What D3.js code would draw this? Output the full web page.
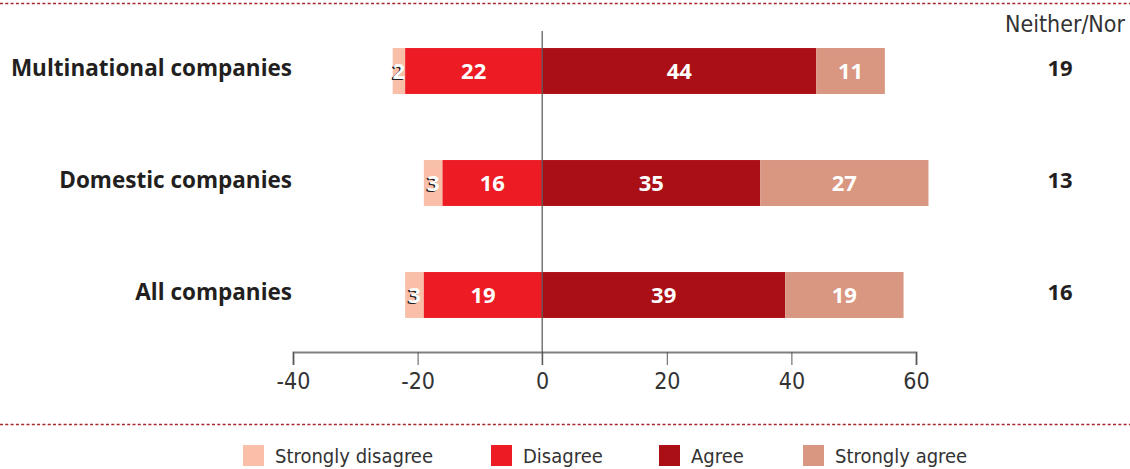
<!DOCTYPE html>
<html>
<head>
<meta charset="utf-8">
<script src="https://cdn.jsdelivr.net/npm/d3@7"></script>
<style>
  body { margin: 0; background: #fff; }
  .light { font-family: "DejaVu Sans Condensed", "Open Sans", sans-serif; fill: #333; }
  .bold { font-family: "Open Sans", sans-serif; font-weight: bold; }
</style>
</head>
<body>
<script>
"use strict";

// categories top to bottom
let categories = ["Multinational companies", "Domestic companies", "All companies"];
// shares in percent
let stronglyDisagree = [2, 3, 3];
let disagree = [22, 16, 19];
let agree = [44, 35, 39];
let stronglyAgree = [11, 27, 19];
let neitherNor = [19, 13, 16];
let xTicks = [-40, -20, 0, 20, 40, 60];
let legendNames = ["Strongly disagree", "Disagree", "Agree", "Strongly agree"];
let legendColors = ["#f9bfa8", "#ed1c24", "#ab0f16", "#d99680"];

let width = 1130, height = 469;

let svg = d3.select("body").append("svg")
    .attr("width", width)
    .attr("height", height);

let x = d3.scaleLinear().domain([-40, 60]).range([293, 916]);
let y = d3.scaleBand().domain(categories).range([15, 351])
    .paddingInner(0.59).paddingOuter(0.295);

// dotted rules top and bottom
[3.5, 424.5].forEach(function(yy) {
  svg.append("line")
     .attr("x1", 0).attr("x2", width)
     .attr("y1", yy).attr("y2", yy)
     .style("stroke", "#a8272d")
     .style("stroke-width", 1.5)
     .style("stroke-dasharray", "3,2.3");
});

// build the stacked segments: [start, end, value, colorIndex]
let segs = [];
categories.forEach(function(c, i) {
  segs.push({cat: c, x0: -disagree[i] - stronglyDisagree[i], x1: -disagree[i], v: stronglyDisagree[i], k: 0});
  segs.push({cat: c, x0: -disagree[i], x1: 0, v: disagree[i], k: 1});
  segs.push({cat: c, x0: 0, x1: agree[i], v: agree[i], k: 2});
  segs.push({cat: c, x0: agree[i], x1: agree[i] + stronglyAgree[i], v: stronglyAgree[i], k: 3});
});

svg.append("g").selectAll("rect")
   .data(segs)
   .enter()
   .append("rect")
   .attr("x", d => x(d.x0))
   .attr("y", d => y(d.cat))
   .attr("width", d => x(d.x1) - x(d.x0))
   .attr("height", y.bandwidth())
   .style("fill", d => legendColors[d.k]);

// labels in segments; small ones get a dark shadow
let labels = svg.append("g");
labels.selectAll("text.shadow")
   .data(segs.filter(d => d.k == 0))
   .enter()
   .append("text")
   .attr("class", "bold shadow")
   .attr("x", d => (x(d.x0) + x(d.x1)) / 2 - 1.5)
   .attr("y", d => y(d.cat) + y.bandwidth() / 2 + 1.5)
   .attr("dy", "0.36em")
   .attr("text-anchor", "middle")
   .style("font-size", "22px")
   .style("fill", "#231f20")
   .text(d => d.v);
labels.selectAll("text.val")
   .data(segs)
   .enter()
   .append("text")
   .attr("class", "bold val")
   .attr("x", d => (x(d.x0) + x(d.x1)) / 2)
   .attr("y", d => y(d.cat) + y.bandwidth() / 2)
   .attr("dy", "0.36em")
   .attr("text-anchor", "middle")
   .style("font-size", "22px")
   .style("fill", "#fff")
   .text(d => d.v);

// category names
svg.append("g").selectAll("text")
   .data(categories)
   .enter()
   .append("text")
   .attr("class", "bold")
   .attr("x", 292)
   .attr("y", d => y(d) + y.bandwidth() / 2 - 3)
   .attr("dy", "0.36em")
   .attr("text-anchor", "end")
   .style("font-size", "22.5px")
   .style("fill", "#231f20")
   .text(d => d);

// neither/nor column
svg.append("text")
   .attr("class", "light")
   .attr("x", 1125).attr("y", 32)
   .attr("text-anchor", "end")
   .style("font-size", "23px")
   .text("Neither/Nor");
svg.append("g").selectAll("text")
   .data(neitherNor)
   .enter()
   .append("text")
   .attr("class", "bold")
   .attr("x", 1060)
   .attr("y", (d, i) => y(categories[i]) + y.bandwidth() / 2 - 3)
   .attr("dy", "0.36em")
   .attr("text-anchor", "middle")
   .style("font-size", "22px")
   .style("fill", "#231f20")
   .text(d => d);

// x axis
let axisG = svg.append("g")
   .attr("transform", "translate(0,352)")
   .call(d3.axisBottom(x).tickValues(xTicks).tickFormat(d => String(d))
         .tickSize(13).tickSizeOuter(13).tickPadding(8));
axisG.select(".domain").style("stroke", "#7f7f7f").style("stroke-width", 2);
axisG.selectAll(".tick line").style("stroke", "#555").style("stroke-width", 1);
axisG.selectAll(".tick text")
   .attr("class", "light")
   .style("font-size", "23px")
   .style("fill", "#333");

// zero line
svg.append("line")
   .attr("x1", x(0)).attr("x2", x(0))
   .attr("y1", 31).attr("y2", 365)
   .style("stroke", "#555")
   .style("stroke-width", 1.2);

// legend
let legendX = [243, 491, 659, 803];
let legend = svg.append("g").selectAll("g")
   .data(legendNames)
   .enter()
   .append("g")
   .attr("transform", (d, i) => "translate(" + legendX[i] + ",445)");
legend.append("rect")
   .attr("width", 21).attr("height", 21)
   .style("fill", (d, i) => legendColors[i]);
legend.append("text")
   .attr("class", "light")
   .attr("x", 32).attr("y", 11)
   .attr("dy", "0.36em")
   .style("font-size", "20px")
   .text(d => d);
</script>
</body>
</html>
